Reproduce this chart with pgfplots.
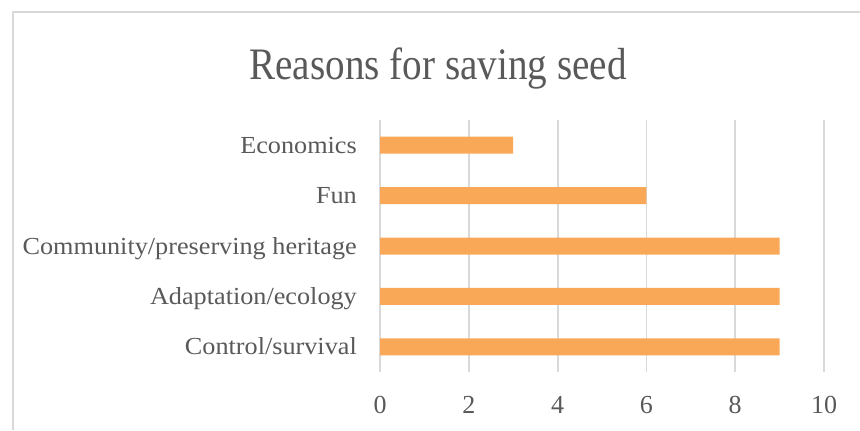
\documentclass[border=0pt]{standalone}
\usepackage{pgfplots}
\pgfplotsset{compat=1.18}
\usepackage{fontspec}
\setmainfont{Liberation Serif}
\usepackage{graphicx}
\definecolor{barc}{RGB}{249,168,87}
\definecolor{txt}{RGB}{89,89,89}
\definecolor{gridc}{RGB}{217,217,217}
\newcommand{\wl}[1]{\scalebox{1.07}[1]{#1}}
\begin{document}
\begin{tikzpicture}[x=1bp,y=1bp]
\useasboundingbox (0,0) rectangle (860,430);
\draw[gridc, line width=1.5bp] (13,0) -- (13,418) -- (870,418);
\node[text=txt, font=\fontsize{45bp}{54bp}\selectfont, anchor=base, inner sep=0pt] at (438,351) {\scalebox{0.87}[1]{Reasons for saving seed}};
\begin{axis}[
  at={(380bp,58bp)}, anchor=south west,
  scale only axis, width=444bp, height=252bp,
  xbar, bar width=17bp,
  xmin=0, xmax=10, ymin=-0.5, ymax=4.5,
  xtick={0,2,4,6,8,10}, ytick={0,1,2,3,4},
  yticklabels={\wl{Control/survival}, \wl{Adaptation/ecology}, \wl{Community/preserving heritage}, \wl{Fun}, \wl{Economics}},
  xmajorgrids, major grid style={gridc, line width=1.8bp},
  axis line style={draw=none}, major tick length=0pt,
  /pgf/number format/assume math mode=true,
  tick label style={text=txt, font=\fontsize{24.5bp}{29bp}\selectfont},
  xticklabel style={anchor=base, yshift=-41bp, inner sep=0pt, font=\fontsize{26bp}{30bp}\selectfont},
  yticklabel style={anchor=base east, yshift=-8bp, xshift=-23bp, inner sep=0pt},
]
\addplot[fill=barc, draw=none] coordinates {(9,0) (9,1) (9,2) (6,3) (3,4)};
\end{axis}
\end{tikzpicture}
\end{document}
